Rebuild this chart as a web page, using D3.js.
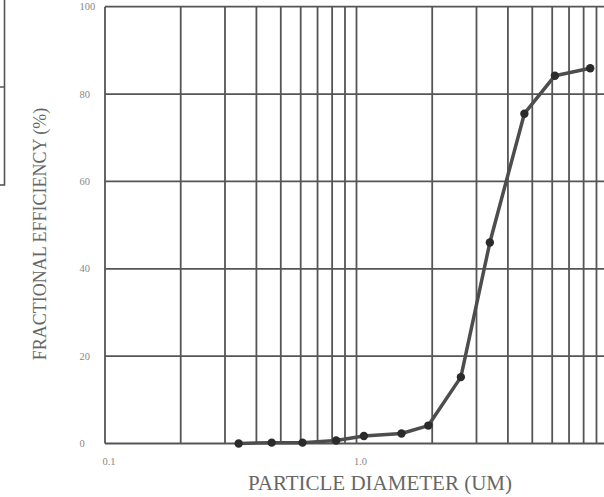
<!DOCTYPE html>
<html>
<head>
<meta charset="utf-8">
<script src="https://cdn.jsdelivr.net/npm/d3@7"></script>
<style>
  html, body { margin: 0; padding: 0; background: #fff; overflow: hidden; }
  svg { display: block; }
</style>
</head>
<body>
<svg id="chart" width="604" height="497"></svg>
<script>
// ---- data ----
const diameters  = [0.34, 0.46, 0.61, 0.83, 1.07, 1.51, 1.93, 2.6, 3.39, 4.65, 6.15, 8.5];
const efficiency = [0, 0.2, 0.2, 0.7, 1.7, 2.3, 4.1, 15.2, 46.0, 75.5, 84.2, 85.9];
const xGridValues = [0.1,0.2,0.3,0.4,0.5,0.6,0.7,0.8,0.9,1,2,3,4,5,6,7,8,9,10];
const xTickLabels = [{v: 0.1, t: "0.1"}, {v: 1, t: "1.0"}];
const yTickValues = [0, 20, 40, 60, 80, 100];
const xTitle = "PARTICLE DIAMETER (UM)";
const yTitle = "FRACTIONAL EFFICIENCY (%)";

// ---- layout ----
const svg = d3.select("#chart");
const plotLeft = 105, plotRight = 608, plotTop = 6.7, plotBottom = 443.5;
const x = d3.scaleLog().domain([0.1, 10]).range([plotLeft, plotRight]);
const y = d3.scaleLinear().domain([0, 100]).range([plotBottom, plotTop]);
const font = "'Liberation Serif', 'Times New Roman', serif";

// cropped box at far left
svg.append("rect").attr("x", -60).attr("y", -10).attr("width", 64.5).attr("height", 195)
  .attr("fill", "none").attr("stroke", "#555").attr("stroke-width", 1.6);
svg.append("line").attr("x1", -60).attr("x2", 4.5).attr("y1", 87).attr("y2", 87)
  .attr("stroke", "#555").attr("stroke-width", 1.6);

// grid
const grid = svg.append("g").attr("stroke", "#555").attr("stroke-width", 1.8);
grid.selectAll("line.v").data(xGridValues).join("line").attr("class", "v")
  .attr("x1", d => x(d)).attr("x2", d => x(d)).attr("y1", plotTop).attr("y2", plotBottom);
grid.selectAll("line.h").data(yTickValues).join("line").attr("class", "h")
  .attr("x1", plotLeft).attr("x2", plotRight).attr("y1", d => y(d)).attr("y2", d => y(d));

// tick labels
svg.append("g").selectAll("text").data(yTickValues).join("text")
  .attr("x", 79.5).attr("y", d => y(d)).attr("dy", "0.35em")
  .attr("font-family", font).attr("font-size", 10.5).attr("fill", "#888")
  .text(d => d);
svg.append("g").selectAll("text").data(xTickLabels).join("text")
  .attr("x", d => x(d.v) + 4).attr("y", 465).attr("text-anchor", "middle")
  .attr("font-family", font).attr("font-size", 10.5).attr("fill", "#888")
  .text(d => d.t);

// titles
svg.append("text").attr("x", 380).attr("y", 490).attr("text-anchor", "middle")
  .attr("font-family", font).attr("font-size", 21).attr("fill", "#666").text(xTitle);
svg.append("text").attr("transform", "translate(45.5,234) rotate(-90)").attr("text-anchor", "middle")
  .attr("font-family", font).attr("font-size", 18).attr("fill", "#666").text(yTitle);

// series
const pts = diameters.map((d, i) => [d, efficiency[i]]);
svg.append("path").datum(pts)
  .attr("fill", "none").attr("stroke", "#4d4d4d").attr("stroke-width", 3.5)
  .attr("stroke-linejoin", "round")
  .attr("d", d3.line().x(d => x(d[0])).y(d => y(d[1])));
svg.append("g").selectAll("circle").data(pts).join("circle")
  .attr("cx", d => x(d[0])).attr("cy", d => y(d[1])).attr("r", 4.2)
  .attr("fill", "#2b2b2b");
</script>
</body>
</html>
